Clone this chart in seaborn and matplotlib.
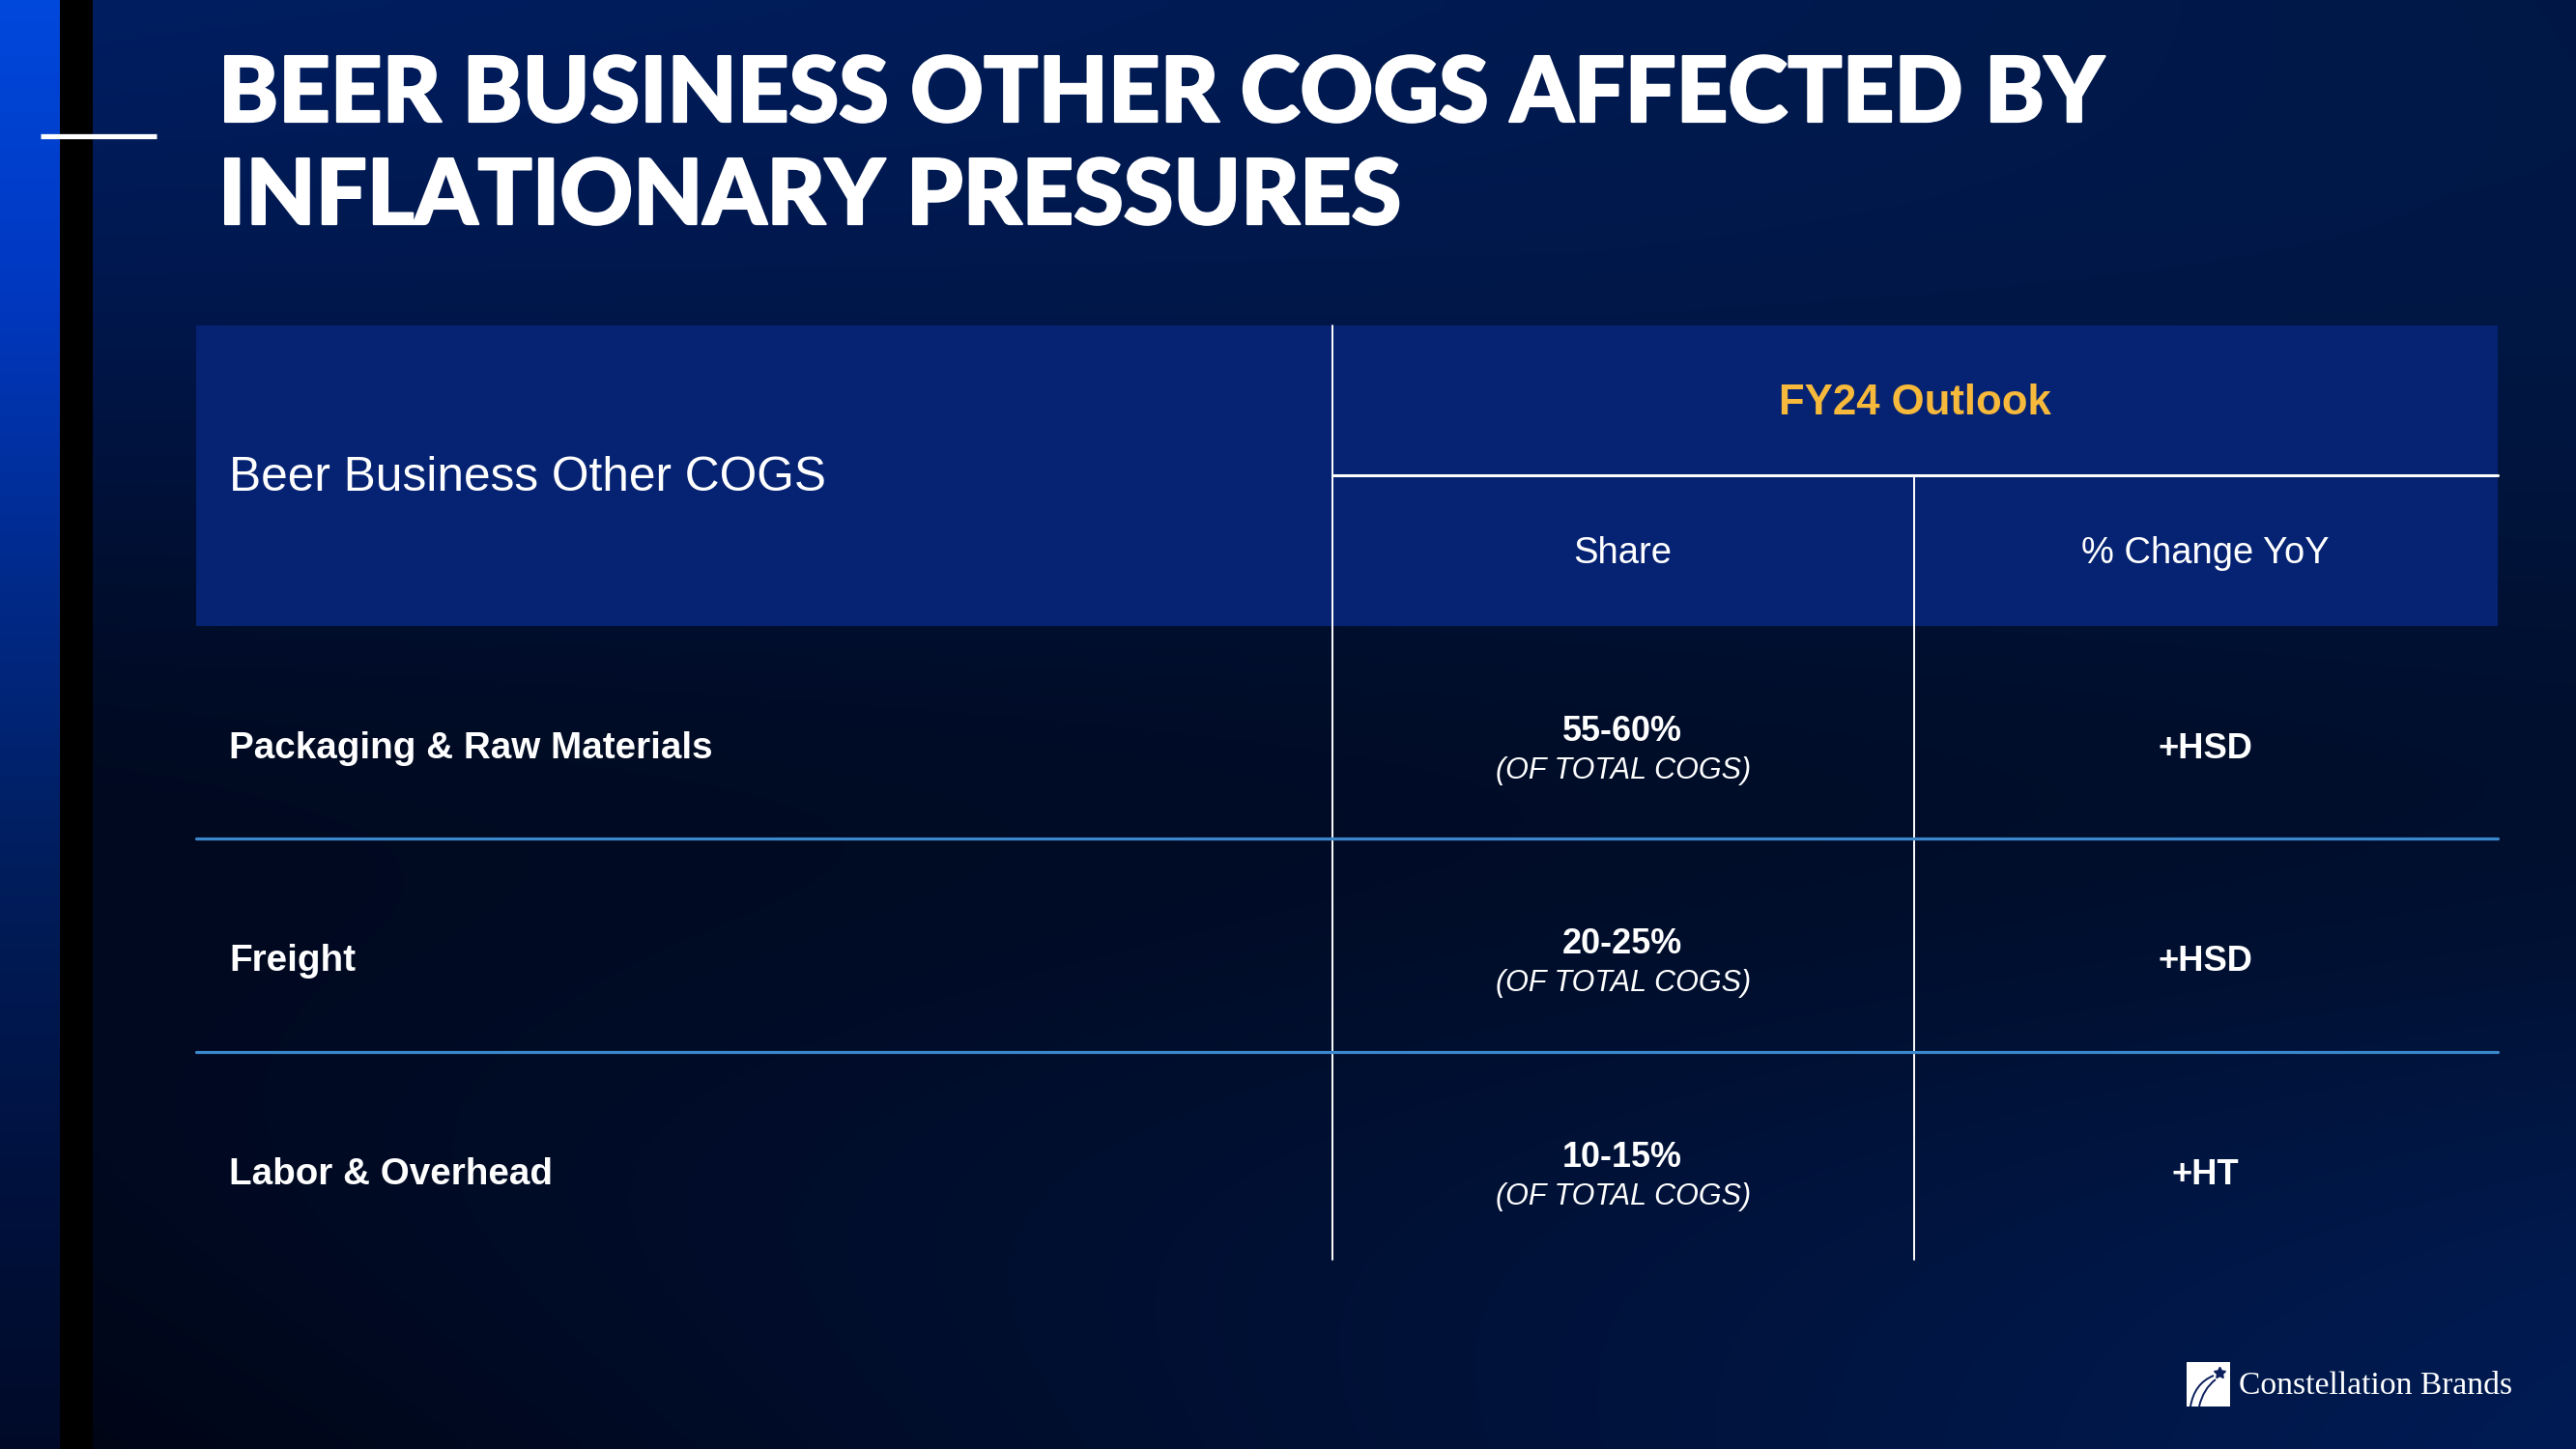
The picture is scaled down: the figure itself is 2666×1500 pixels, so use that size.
import numpy as np
import matplotlib
matplotlib.use("Agg")
import matplotlib.pyplot as plt
import seaborn as sns
from matplotlib.patches import Rectangle, PathPatch
from matplotlib.path import Path
from matplotlib import font_manager as fm
import matplotlib.patheffects as pe

# ---------------- data ----------------
TITLE_LINES = ["BEER BUSINESS OTHER COGS AFFECTED BY", "INFLATIONARY PRESSURES"]
ROW_HEADER = "Beer Business Other COGS"
GROUP_HEADER = "FY24 Outlook"
COL_HEADERS = ["Share", "% Change YoY"]
CATEGORIES = ["Packaging & Raw Materials", "Freight", "Labor & Overhead"]
SHARE_RANGES = ["55-60%", "20-25%", "10-15%"]
SHARE_NOTE = "(OF TOTAL COGS)"
YOY_CHANGE = ["+HSD", "+HSD", "+HT"]
BRAND = "Constellation Brands"

# ---------------- style ----------------
W, H = 2666, 1500
sns.set_theme(style="white")

_avail = {f.name for f in fm.fontManager.ttflist}


def pick(names):
    for n in names:
        if n in _avail:
            return n
    return "DejaVu Sans"


SANS = pick(["Liberation Sans", "Arimo", "Roboto", "DejaVu Sans"])
TITLE_FONT = pick(["Lato", "Inter", "Open Sans", "Roboto", "DejaVu Sans"])
SERIF = pick(["Liberation Serif", "DejaVu Serif"])
plt.rcParams["font.family"] = [SANS, "DejaVu Sans"]

HEADER_BG = "#062373"
GOLD = "#f6b93b"
RULE_BLUE = "#3b87cc"
NAVY = "#0a1f5c"

fig = plt.figure(figsize=(W / 100, H / 100), dpi=100)
ax = fig.add_axes([0, 0, 1, 1])
ax.set_xlim(0, W)
ax.set_ylim(H, 0)
ax.axis("off")
sns.despine(ax=ax, left=True, bottom=True)

# ---------------- background gradient ----------------
ny, nx = 150, 267
yy, xx = np.mgrid[0:1:ny * 1j, 0:1:nx * 1j]
TL = np.array([0, 30, 98])
TR = np.array([0, 24, 70])
BL = np.array([1, 5, 20])
BR = np.array([0, 28, 86])
bil = (TL * ((1 - xx) * (1 - yy))[..., None] + TR * (xx * (1 - yy))[..., None]
       + BL * ((1 - xx) * yy)[..., None] + BR * (xx * yy)[..., None])
dark = 1 - 0.42 * np.exp(-((yy - 0.55) / 0.25) ** 2)
bg = np.clip(bil * dark[..., None] / 255.0, 0, 1)
ax.imshow(bg, extent=(0, W, H, 0), aspect="auto", interpolation="bilinear", zorder=0)

# left blue stripe
stops_y = np.array([0, 300, 600, 900, 1200, 1500]) / 1500
stops_b = np.array([[0, 72, 220], [0, 56, 192], [0, 42, 138], [0, 29, 92], [0, 18, 64], [0, 10, 40]])
sy = np.linspace(0, 1, 300)
stripe = np.stack([np.interp(sy, stops_y, stops_b[:, c]) for c in range(3)], axis=-1) / 255.0
stripe = np.repeat(stripe[:, None, :], 4, axis=1)
ax.imshow(stripe, extent=(0, 62, H, 0), aspect="auto", interpolation="bilinear", zorder=1)
ax.add_patch(Rectangle((62, 0), 34, H, color="black", zorder=2, lw=0))
ax.plot([42, 162], [141, 141], color="white", lw=3.8, solid_capstyle="butt", zorder=3)

ax.set_xlim(0, W)
ax.set_ylim(H, 0)

renderer = fig.canvas.get_renderer()


def fit(texts, target_w):
    w = texts[0].get_window_extent(renderer).width
    fs = texts[0].get_fontsize() * target_w / w
    for t in texts:
        t.set_fontsize(fs)


# ---------------- title ----------------
heavy = [pe.withStroke(linewidth=1.6, foreground="white")]
t1 = ax.text(226, 126, TITLE_LINES[0], color="white", fontsize=70, fontweight="black",
             family=[TITLE_FONT, "DejaVu Sans"], ha="left", va="baseline", zorder=5)
t2 = ax.text(226, 232, TITLE_LINES[1], color="white", fontsize=70, fontweight="black",
             family=[TITLE_FONT, "DejaVu Sans"], ha="left", va="baseline", zorder=5)
fit([t1, t2], 1952)
t1.set_path_effects(heavy)
t2.set_path_effects(heavy)

# ---------------- table ----------------
LEFT, RIGHT = 203, 2585
HEAD_TOP, HEAD_MID, HEAD_BOT = 337, 492, 648
COL1, COL2 = 1379, 1981
TABLE_BOT = 1304
row_edges = np.linspace(HEAD_BOT, TABLE_BOT, len(CATEGORIES) + 1)
row_edges[1], row_edges[2] = 868, 1089

ax.add_patch(Rectangle((LEFT, HEAD_TOP), RIGHT - LEFT, HEAD_BOT - HEAD_TOP,
                       color=HEADER_BG, lw=0, zorder=3))
ax.plot([COL1, COL1], [HEAD_TOP, TABLE_BOT], color="white", lw=1.4, zorder=4)
ax.plot([COL2, COL2], [HEAD_MID, TABLE_BOT], color="white", lw=1.4, zorder=4)
ax.plot([COL1, RIGHT], [HEAD_MID, HEAD_MID], color="white", lw=2.2, zorder=4)
for yb in row_edges[1:-1]:
    ax.plot([LEFT, RIGHT], [yb, yb], color=RULE_BLUE, lw=2.3, zorder=4)

c_share = (COL1 + COL2) / 2 - 1
c_yoy = (COL2 + RIGHT) / 2 - 1
TX = 237

th = ax.text(TX, 508, ROW_HEADER, color="white", fontsize=34, ha="left", va="baseline", zorder=5)
fit([th], 617)
tg = ax.text((COL1 + RIGHT) / 2, 429, GROUP_HEADER, color=GOLD, fontsize=30,
             fontweight="bold", ha="center", va="baseline", zorder=5)
fit([tg], 282)
ts = ax.text(c_share, 583, COL_HEADERS[0], color="white", fontsize=30, ha="center",
             va="baseline", zorder=5)
fit([ts], 102)
ty = ax.text(c_yoy, 583, COL_HEADERS[1], color="white", fontsize=30, ha="center",
             va="baseline", zorder=5)
fit([ty], 256)

cat_t, sh_t, note_t, yoy_t = [], [], [], []
for i, (cat, sh, yo) in enumerate(zip(CATEGORIES, SHARE_RANGES, YOY_CHANGE)):
    top = row_edges[i]
    cat_t.append(ax.text(TX, top + 137, cat, color="white", fontsize=28, fontweight="bold",
                         ha="left", va="baseline", zorder=5))
    sh_t.append(ax.text(c_share, top + 119, sh, color="white", fontsize=28, fontweight="bold",
                        ha="center", va="baseline", zorder=5))
    note_t.append(ax.text(c_share + 1, top + 158, SHARE_NOTE, color="white", fontsize=22,
                          fontstyle="italic", ha="center", va="baseline", zorder=5))
    yoy_t.append(ax.text(c_yoy, top + 137, yo, color="white", fontsize=28, fontweight="bold",
                         ha="center", va="baseline", zorder=5))
fit(cat_t, 501)
fit(sh_t, 124)
fit(note_t, 264)
fit(yoy_t, 98)

# ---------------- logo ----------------
ax.add_patch(Rectangle((2263, 1410), 45, 46, color="white", lw=0, zorder=5))
ax.plot([2297], [1421], marker=(5, 1, 0), ms=9, color=NAVY, zorder=6, lw=0)
for (x0, cx, cy, x1, y1) in [(2267, 2271, 1432, 2291, 1424), (2276, 2280, 1438, 2293, 1428)]:
    p = Path([(x0, 1456), (cx, cy), (x1, y1)], [Path.MOVETO, Path.CURVE3, Path.CURVE3])
    ax.add_patch(PathPatch(p, facecolor="none", edgecolor=NAVY, lw=1.4, zorder=6))
tb = ax.text(2600, 1443, BRAND, color="white", fontsize=20, family=[SERIF, "DejaVu Serif"],
             ha="right", va="baseline", zorder=5)
fit([tb], 283)

fig.savefig("out.png", dpi=100, facecolor=fig.get_facecolor())
